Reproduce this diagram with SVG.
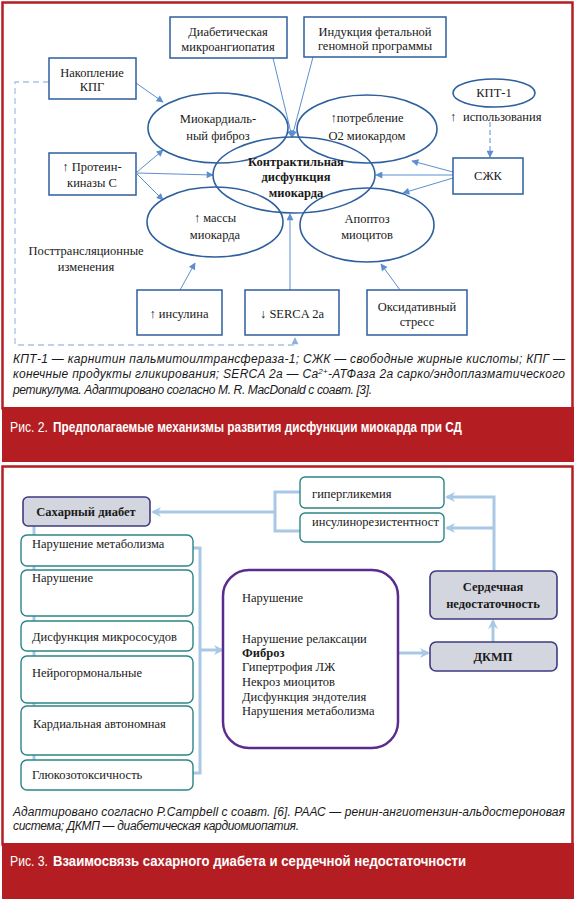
<svg xmlns="http://www.w3.org/2000/svg" width="579" height="899" viewBox="0 0 579 899">
<style>
.t{font-family:"Liberation Serif","Times New Roman",serif;font-size:12.5px;fill:#1a1a1a}
.c{text-anchor:middle}
.b{font-weight:bold}
.box{fill:#fff;stroke:#2e5f9e;stroke-width:1.5}
.ell{fill:none;stroke:#2e5f9e;stroke-width:1.6}
.ar{stroke:#5b8fd0;stroke-width:1;fill:none;marker-end:url(#ah)}
.dash{stroke:#a8c4e4;stroke-width:1.3;fill:none;stroke-dasharray:6 4}
.tb{fill:#fff;stroke:#2b8585;stroke-width:1.4}
.gb{fill:#d3d6de;stroke:#3f3a80;stroke-width:1.6}
.la{stroke:#a8c8e6;stroke-width:3;fill:none}
.cap{font-family:"Liberation Sans Narrow","Liberation Sans",Arial,sans-serif;font-style:italic;font-size:12px;fill:#1a1a1a}
.bar{font-family:"Liberation Sans Narrow","Liberation Sans",Arial,sans-serif;font-size:14px;fill:#fff}
</style>
<defs>
<marker id="ah" viewBox="0 0 10 10" refX="9" refY="5" markerWidth="9" markerHeight="7" markerUnits="userSpaceOnUse" orient="auto"><path d="M0,0 L10,5 L0,10 z" fill="#5b8fd0"/></marker>
<marker id="ahd" viewBox="0 0 10 10" refX="9" refY="5" markerWidth="8" markerHeight="7" markerUnits="userSpaceOnUse" orient="auto"><path d="M0,0 L10,5 L0,10 z" fill="#8fb2dc"/></marker>
<marker id="al" viewBox="0 0 10 10" refX="8" refY="5" markerWidth="11" markerHeight="10" markerUnits="userSpaceOnUse" orient="auto"><path d="M0,0 L10,5 L0,10 L3,5 z" fill="#a8c8e6"/></marker>
</defs>
<rect width="579" height="899" fill="#fff"/>
<!-- Panel 1 -->
<rect x="2.5" y="2.5" width="570" height="406" fill="#fff" stroke="#b41e22" stroke-width="2.5"/>
<rect x="2" y="407" width="572" height="55" fill="#b41e22"/>
<!-- Panel 2 -->
<rect x="2.5" y="466.5" width="570" height="378" fill="#fff" stroke="#b41e22" stroke-width="2.5"/>
<rect x="2" y="843" width="572" height="56" fill="#b41e22"/>

<g id="connectors-top">
<path class="dash" d="M49,82 H15 V345 H295 V338" marker-end="url(#ahd)"/>
<path class="ar" d="M136,83 L163,102"/>
<path class="ar" d="M137,172 L163,150"/>
<path class="ar" d="M137,173 L213,175"/>
<path class="ar" d="M137,174 L163,200"/>
<path class="ar" d="M273,58 L292,137"/>
<path class="ar" d="M313,57 L292,137"/>
<path class="ar" d="M453,172 L412,161"/>
<path class="ar" d="M453,175 L376,175"/>
<path class="ar" d="M453,178 L403,193"/>
<path class="ar" d="M490,122 V157" stroke-dasharray="5 3"/>
<path class="ar" d="M180,290 L195,263"/>
<path class="ar" d="M290,290 V214"/>
<path class="ar" d="M400,290 L381,264"/>
</g>

<g id="n-diabmicro"><rect class="box" x="170" y="17" width="117" height="41"/><text class="t c" x="228" y="36">Диабетическая</text><text class="t c" x="228" y="51">микроангиопатия</text></g>
<g id="n-indukciya"><rect class="box" x="304" y="17" width="142" height="40"/><text class="t c" x="375" y="36">Индукция фетальной</text><text class="t c" x="375" y="50">геномной программы</text></g>
<g id="n-nakoplenie"><rect class="box" x="49" y="58" width="87" height="41"/><text class="t c" x="92" y="77">Накопление</text><text class="t c" x="92" y="91">КПГ</text></g>
<g id="n-proteinkinase"><rect class="box" x="49" y="153" width="87" height="42"/><text class="t c" x="92" y="171">↑ Протеин-</text><text class="t c" x="92" y="187">киназы С</text></g>
<g id="n-fibroz"><ellipse class="ell" cx="218" cy="128" rx="70" ry="35"/><text class="t c" x="218" y="123">Миокардиаль-</text><text class="t c" x="218" y="140">ный фиброз</text></g>
<g id="n-potreblenie"><ellipse class="ell" cx="367" cy="129" rx="70" ry="34"/><text class="t c" x="367" y="122">↑потребление</text><text class="t c" x="367" y="140">O2 миокардом</text></g>
<g id="n-central"><ellipse class="ell" cx="294" cy="175" rx="81" ry="38"/><text class="t c b" x="296" y="166">Контрактильная</text><text class="t c b" x="296" y="181">дисфункция</text><text class="t c b" x="296" y="197">миокарда</text></g>
<g id="n-massy"><ellipse class="ell" cx="215" cy="222" rx="68" ry="35"/><text class="t c" x="215" y="222">↑ массы</text><text class="t c" x="215" y="239">миокарда</text></g>
<g id="n-apoptoz"><ellipse class="ell" cx="367" cy="225" rx="67" ry="37"/><text class="t c" x="367" y="223">Апоптоз</text><text class="t c" x="367" y="239">миоцитов</text></g>
<g id="n-kpt1"><ellipse class="ell" cx="494" cy="93" rx="41" ry="14"/><text class="t c" x="494" y="97">КПТ-1</text></g>
<g id="l-ispolz"><text class="t" x="450" y="121">↑</text><text class="t" x="463" y="121">использования</text></g>
<g id="n-szhk"><rect class="box" x="453" y="158" width="70" height="36"/><text class="t c" x="488" y="180">СЖК</text></g>
<g id="l-posttrans"><text class="t c" x="86" y="255">Посттрансляционные</text><text class="t c" x="86" y="271">изменения</text></g>
<g id="n-insulin"><rect class="box" x="137" y="290" width="85" height="45"/><text class="t c" x="179" y="318">↑ инсулина</text></g>
<g id="n-serca"><rect class="box" x="245" y="290" width="94" height="45"/><text class="t c" x="292" y="318">↓ SERCA 2a</text></g>
<g id="n-oxid"><rect class="box" x="367" y="290" width="100" height="45"/><text class="t c" x="417" y="311">Оксидативный</text><text class="t c" x="417" y="326">стресс</text></g>

<g id="caption-1">
<text class="cap" x="13" y="363" textLength="552" lengthAdjust="spacing">КПТ-1 — карнитин пальмитоилтрансфераза-1; СЖК — свободные жирные кислоты; КПГ —</text>
<text class="cap" x="13" y="378" textLength="552" lengthAdjust="spacing">конечные продукты гликирования; SERCA 2a — Ca<tspan font-size="8" dy="-4">2+</tspan><tspan dy="4">-АТФаза 2a сарко/эндоплазматического</tspan></text>
<text class="cap" x="13" y="394" textLength="359" lengthAdjust="spacing">ретикулума. Адаптировано согласно M. R. MacDonald с соавт. [3].</text>
</g>
<g id="title-2">
<text class="bar" x="10" y="432" textLength="38" lengthAdjust="spacingAndGlyphs">Рис. 2.</text>
<text class="bar" x="53" y="432" font-weight="bold" textLength="409" lengthAdjust="spacingAndGlyphs">Предполагаемые механизмы развития дисфункции миокарда при СД</text>
</g>

<g id="connectors-bottom">
<path class="la" d="M34,526 V762"/>
<path class="la" d="M300,492 H275 V531 H300"/>
<path class="la" d="M275,512 H153" marker-end="url(#al)"/>
<path class="la" d="M193,548 H200 V773 H193"/>
<path class="la" d="M200,650 H222" marker-end="url(#al)"/>
<path class="la" d="M494,570 V497 H447" marker-end="url(#al)"/>
<path class="la" d="M494,528 H447" marker-end="url(#al)"/>
<path class="la" d="M397,653 H428" marker-end="url(#al)"/>
<path class="la" d="M493,642 V621" marker-end="url(#al)"/>
</g>

<g id="n-sd"><rect class="gb" x="23" y="497" width="127" height="29" rx="5"/><text class="t c b" x="86" y="516">Сахарный диабет</text></g>
<g id="n-giper"><rect class="tb" x="300" y="477" width="144" height="31" rx="5"/><text class="t" x="312" y="498">гипергликемия</text></g>
<g id="n-insres"><rect class="tb" x="300" y="513" width="144" height="29" rx="5"/><text class="t" x="312" y="526">инсулинорезистентност</text></g>
<g id="n-metab"><rect class="tb" x="21" y="535" width="172" height="31" rx="6"/><text class="t" x="32" y="548">Нарушение метаболизма</text></g>
<g id="n-narush"><rect class="tb" x="21" y="570" width="172" height="46" rx="6"/><text class="t" x="32" y="582">Нарушение</text></g>
<g id="n-mikro"><rect class="tb" x="21" y="621" width="172" height="30" rx="6"/><text class="t" x="32" y="641">Дисфункция микрососудов</text></g>
<g id="n-neiro"><rect class="tb" x="21" y="656" width="172" height="47" rx="6"/><text class="t" x="32" y="677">Нейрогормональные</text></g>
<g id="n-kard"><rect class="tb" x="21" y="706" width="172" height="49" rx="6"/><text class="t" x="33" y="728">Кардиальная автономная</text></g>
<g id="n-gluko"><rect class="tb" x="21" y="760" width="172" height="30" rx="6"/><text class="t" x="32" y="779">Глюкозотоксичность</text></g>
<g id="n-big"><rect x="223" y="570" width="175" height="178" rx="26" fill="#fff" stroke="#5b2c8f" stroke-width="2.5"/>
<text class="t" x="242" y="602">Нарушение</text>
<text class="t" x="242" y="643">Нарушение релаксации</text>
<text class="t b" x="242" y="657">Фиброз</text>
<text class="t" x="242" y="671">Гипертрофия ЛЖ</text>
<text class="t" x="242" y="686">Некроз миоцитов</text>
<text class="t" x="242" y="701">Дисфункция эндотелия</text>
<text class="t" x="242" y="715">Нарушения метаболизма</text></g>
<g id="n-serd"><rect class="gb" x="430" y="571" width="127" height="48" rx="6"/><text class="t c b" x="493" y="591">Сердечная</text><text class="t c b" x="493" y="608">недостаточность</text></g>
<g id="n-dkmp"><rect class="gb" x="430" y="642" width="127" height="29" rx="6"/><text class="t c b" x="493" y="661">ДКМП</text></g>

<g id="caption-2">
<text class="cap" x="13" y="816" textLength="552" lengthAdjust="spacing">Адаптировано согласно P.Campbell с соавт. [6]. РААС — ренин-ангиотензин-альдостероновая</text>
<text class="cap" x="13" y="830" textLength="286" lengthAdjust="spacing">система; ДКМП — диабетическая кардиомиопатия.</text>
</g>
<g id="title-3">
<text class="bar" x="10" y="866" textLength="38" lengthAdjust="spacingAndGlyphs">Рис. 3.</text>
<text class="bar" x="53" y="866" font-weight="bold" textLength="413" lengthAdjust="spacingAndGlyphs">Взаимосвязь сахарного диабета и сердечной недостаточности</text>
</g>
</svg>
